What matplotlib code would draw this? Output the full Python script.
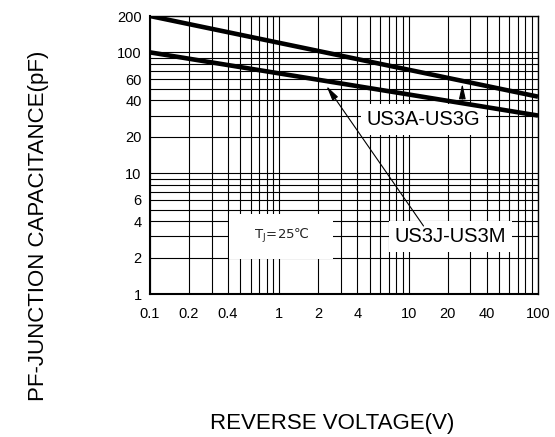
import matplotlib
matplotlib.use("Agg")
import matplotlib.pyplot as plt
from matplotlib.ticker import LogLocator, NullFormatter

plt.rcParams['font.family'] = ['Liberation Sans', 'DejaVu Sans']

# reverse voltage (V) at the two ends of each curve, capacitance in pF
voltage = [0.1, 100]
cap_us3a_us3g = [200, 43]
cap_us3j_us3m = [100, 30]

x_ticks = [0.1, 0.2, 0.4, 1, 2, 4, 10, 20, 40, 100]
x_ticklabels = ["0.1", "0.2", "0.4", "1", "2", "4", "10", "20", "40", "100"]
y_ticks = [1, 2, 4, 6, 10, 20, 40, 60, 100, 200]
y_ticklabels = ["1", "2", "4", "6", "10", "20", "40", "60", "100", "200"]

fig = plt.figure(figsize=(5.55, 4.37), dpi=100)
ax = fig.add_axes([150 / 555, 1 - 294 / 437, 388 / 555, 278 / 437])

ax.plot(voltage, cap_us3a_us3g, color='black', lw=3.3, solid_capstyle='butt', zorder=5)
ax.plot(voltage, cap_us3j_us3m, color='black', lw=3.3, solid_capstyle='butt', zorder=5)

ax.set_xscale('log')
ax.set_yscale('log')
ax.set_xlim(0.1, 100)
ax.set_ylim(1, 200)

ax.set_xticks(x_ticks)
ax.set_xticklabels(x_ticklabels)
ax.set_yticks(y_ticks)
ax.set_yticklabels(y_ticklabels)
ax.xaxis.set_minor_locator(LogLocator(base=10, subs=range(1, 10), numticks=20))
ax.yaxis.set_minor_locator(LogLocator(base=10, subs=range(1, 10), numticks=20))
ax.xaxis.set_minor_formatter(NullFormatter())
ax.yaxis.set_minor_formatter(NullFormatter())
ax.tick_params(which='both', length=0, labelsize=10.5)
ax.tick_params(axis='x', pad=9)
ax.tick_params(axis='y', pad=6)
ax.grid(which='both', color='black', lw=0.8)
ax.set_axisbelow(True)
for s in ax.spines.values():
    s.set_color('black')
    s.set_linewidth(1.0)
ax.spines['left'].set_linewidth(1.5)
ax.spines['bottom'].set_linewidth(1.5)

box = dict(facecolor='white', edgecolor='none', boxstyle='square,pad=0.3')
ax.text(13, 28, "US3A-US3G", fontsize=14.5, ha='center', va='center', bbox=box, zorder=3)
ax.text(21, 3, "US3J-US3M", fontsize=14.5, ha='center', va='center', bbox=box, zorder=3)
ax.text(1.03, 3, "   T$_\\mathrm{J}$=25℃   ", fontsize=9.5, family='DejaVu Sans',
        ha='center', va='center', color='#222222',
        bbox=dict(facecolor='white', edgecolor='none', boxstyle='square,pad=1.0'), zorder=3)

arrow = dict(arrowstyle='-|>,head_length=0.9,head_width=0.2', color='black', lw=0.8)
ax.annotate("", xy=(26, 58), xytext=(26, 39), arrowprops=arrow, zorder=6)
ax.annotate("", xy=(2.25, 55), xytext=(13.4, 3.5), arrowprops=arrow, zorder=6)

fig.text(39 / 555, 1 - 226 / 437, "PF-JUNCTION CAPACITANCE(pF)", rotation=90,
         fontsize=16, ha='center', va='center')
fig.text(332 / 555, 1 - 424 / 437, "REVERSE VOLTAGE(V)", fontsize=16, ha='center', va='center')

fig.savefig("out.png", dpi=100)
